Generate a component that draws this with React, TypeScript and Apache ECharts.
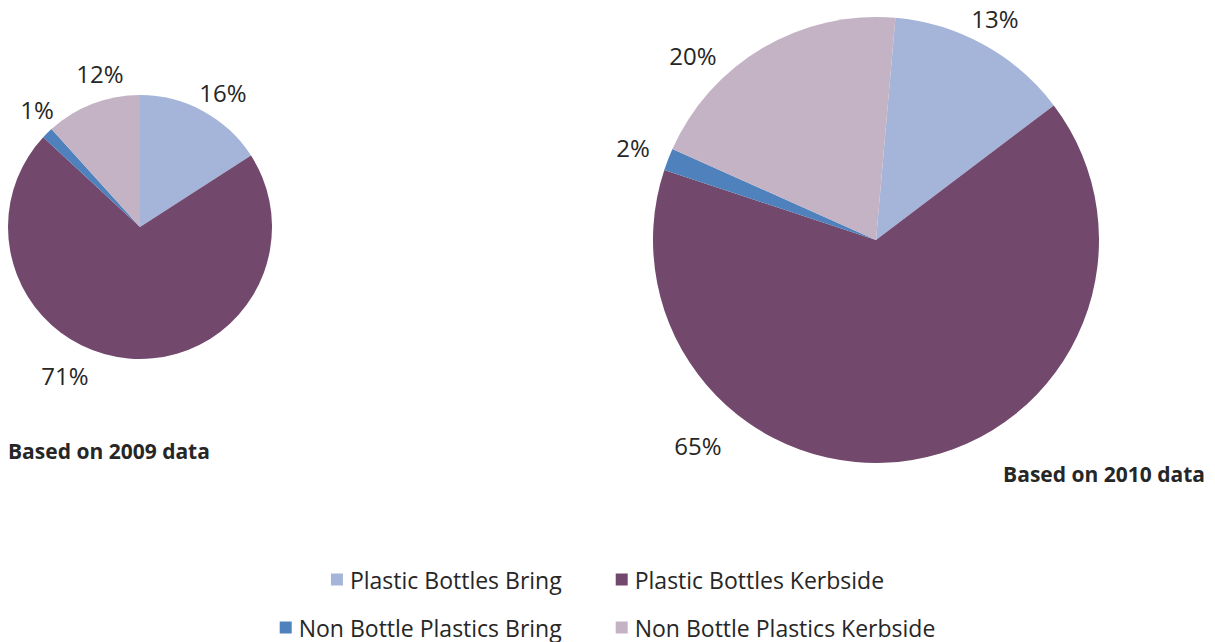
import React, { useEffect, useRef } from "react";
import * as echarts from "echarts";

const categories = [
  "Plastic Bottles Bring",
  "Plastic Bottles Kerbside",
  "Non Bottle Plastics Bring",
  "Non Bottle Plastics Kerbside",
];
const values2009 = [15.9, 71.0, 1.4, 11.7];
const values2010 = [13.3, 65.4, 1.6, 19.7];
const titles = ["Based on 2009 data", "Based on 2010 data"];

const colors = ["#A5B4D9", "#72496C", "#4F81BD", "#C4B2C5"];
const FONT = "'Open Sans', 'Noto Sans', sans-serif";
const TEXT = "#262626";

// label anchor offsets relative to each pie's centre (styling only)
const labelOffsets2009 = [
  [83, -135],
  [-75, 148],
  [-103, -118],
  [-40, -154],
];
const labelOffsets2010 = [
  [119, -222],
  [-178, 205],
  [-243, -93],
  [-183, -185],
];

export default function App() {
  const ref = useRef<HTMLDivElement>(null);
  useEffect(() => {
    if (!ref.current) return;
    const chart = echarts.init(ref.current, undefined, { renderer: "svg" });
    const pies = [
      { values: values2009, center: [140, 227], radius: 132, start: 90, offs: labelOffsets2009 },
      { values: values2010, center: [876, 240], radius: 223, start: 85, offs: labelOffsets2010 },
    ];
    const legendBase = {
      left: "center",
      icon: "rect",
      itemWidth: 12,
      itemHeight: 12,
      itemGap: 54,
      padding: 0,
      selectedMode: false,
      textStyle: { fontFamily: FONT, fontSize: 23, color: TEXT, padding: [0, 0, 0, 2] },
    };
    chart.setOption({
      animation: false,
      color: colors,
      textStyle: { fontFamily: FONT },
      title: [
        {
          text: titles[0],
          left: 8,
          top: 440,
          textStyle: { fontFamily: FONT, fontSize: 21, fontWeight: "bold", color: TEXT },
          padding: 0,
        },
        {
          text: titles[1],
          right: 10,
          top: 463,
          textStyle: { fontFamily: FONT, fontSize: 21, fontWeight: "bold", color: TEXT },
          padding: 0,
        },
      ],
      legend: [
        { ...legendBase, data: categories.slice(0, 2), top: 568 },
        { ...legendBase, data: categories.slice(2, 4), top: 616 },
      ],
      series: pies.map((p) => ({
        type: "pie",
        center: p.center,
        radius: p.radius,
        startAngle: p.start,
        clockwise: true,
        silent: true,
        avoidLabelOverlap: false,
        label: {
          show: true,
          position: "outside",
          formatter: (prm: any) => Math.round(prm.value) + "%",
          fontFamily: FONT,
          fontSize: 24,
          color: TEXT,
        },
        labelLine: { show: false },
        labelLayout: (prm: any) => {
          const o = p.offs[prm.dataIndex];
          return {
            x: p.center[0] + o[0],
            y: p.center[1] + o[1],
            align: "center",
            verticalAlign: "middle",
          };
        },
        itemStyle: { borderWidth: 0 },
        data: categories.map((c, i) => ({ name: c, value: p.values[i] })),
      })),
    });
    return () => chart.dispose();
  }, []);
  return (
    <div
      ref={ref}
      style={{ position: "fixed", left: 0, top: 0, width: 1215, height: 642, background: "#fff" }}
    />
  );
}
